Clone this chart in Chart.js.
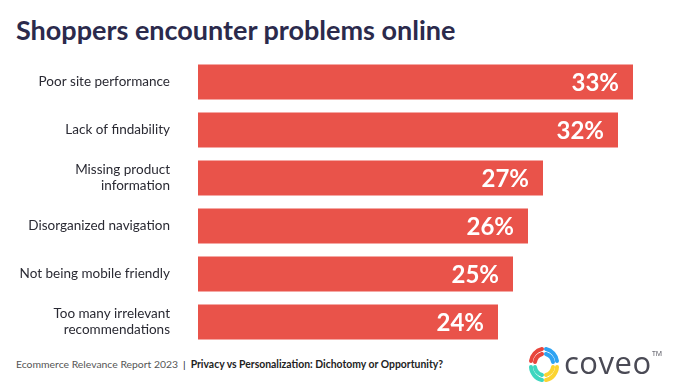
<!DOCTYPE html>
<html>
<head>
<meta charset="utf-8">
<script src="https://cdn.jsdelivr.net/npm/chart.js@4.4.0/dist/chart.umd.min.js"></script>
<style>
  html, body { margin: 0; padding: 0; background: #fff; }
  body { width: 673px; height: 392px; position: relative; overflow: hidden; font-family: Lato, "Open Sans", sans-serif; }
  #title { position: absolute; left: 16px; top: 13px; font-size: 27px; font-weight: 700; color: #2b2a4c; white-space: nowrap; }
  #c { position: absolute; left: 0; top: 58px; }
  #footer { position: absolute; left: 16px; top: 358px; font-size: 10.4px; color: #555; white-space: nowrap; }
  #footer b { color: #222; font-weight: 700; }
  #footer .sep { color: #222; padding: 0 5px; }
  #logo { position: absolute; left: 525px; top: 343px; width: 145px; height: 44px; }
  #logo .word { position: absolute; left: 39px; top: -2px; font-family: "Open Sans", sans-serif; font-size: 31px; color: #4a4a55; letter-spacing: 0.5px; }
  #logo .tm { position: absolute; left: 127px; top: 6px; font-size: 7px; color: #4a4a55; font-family: "Open Sans", sans-serif; }
</style>
</head>
<body>
<div id="title">Shoppers encounter problems online</div>
<canvas id="c" width="663" height="288"></canvas>
<div id="footer">Ecommerce Relevance Report 2023<span class="sep">|</span><b>Privacy vs Personalization: Dichotomy or Opportunity?</b></div>
<div id="logo">
  <svg width="38" height="44" viewBox="0 0 38 44">
    <g fill="none" stroke-width="4" stroke-linecap="round">
      <path d="M6 18 A14 14 0 0 1 17 6" stroke="#e8453c"/>
      <path d="M10 19 A10 10 0 0 1 17 11" stroke="#e8453c"/>
      <path d="M21 6 A14 14 0 0 1 32 18" stroke="#2ea3f2"/>
      <path d="M21 11 A10 10 0 0 1 28 19" stroke="#2ea3f2"/>
      <path d="M6 24 A14 14 0 0 0 17 37" stroke="#3dd6bf"/>
      <path d="M10 24 A10 10 0 0 0 17 32" stroke="#3dd6bf"/>
      <path d="M32 24 A14 14 0 0 1 21 37" stroke="#fbd431"/>
      <path d="M28 24 A10 10 0 0 1 21 32" stroke="#fbd431"/>
    </g>
  </svg>
  <span class="word">coveo</span><span class="tm">TM</span>
</div>
<script>
const categories = [
  "Poor site performance",
  "Lack of findability",
  ["Missing product", "information"],
  "Disorganized navigation",
  "Not being mobile friendly",
  ["Too many irrelevant", "recommendations"]
];
const values = [33, 32, 27, 26, 25, 24];
const valueLabels = ["33%", "32%", "27%", "26%", "25%", "24%"];

const valueLabelPlugin = {
  id: 'valueLabels',
  afterDatasetsDraw(chart) {
    const ctx = chart.ctx;
    const meta = chart.getDatasetMeta(0);
    ctx.save();
    ctx.fillStyle = '#ffffff';
    ctx.font = '700 24px Lato, sans-serif';
    ctx.textAlign = 'right';
    ctx.textBaseline = 'middle';
    meta.data.forEach((bar, i) => {
      ctx.fillText(valueLabels[i], bar.x - 14, bar.y + 1);
    });
    ctx.restore();
  }
};

new Chart(document.getElementById('c'), {
  type: 'bar',
  data: {
    labels: categories,
    datasets: [{
      data: values,
      backgroundColor: '#e9534a',
      borderWidth: 0,
      categoryPercentage: 1,
      barPercentage: 0.73
    }]
  },
  options: {
    indexAxis: 'y',
    responsive: false,
    animation: false,
    layout: { padding: 0, autoPadding: false },
    plugins: { legend: { display: false }, tooltip: { enabled: false }, title: { display: false } },
    scales: {
      x: { display: false, min: 4, max: 35 },
      y: {
        grid: { display: false, drawTicks: false },
        border: { display: false },
        afterFit(scale) { scale.width = 198; scale.paddingTop = 0; scale.paddingBottom = 0; },
        ticks: {
          padding: 28,
          color: '#2a2a33',
          font: { family: 'Lato, sans-serif', size: 13.5, lineHeight: 1.2 },
          crossAlign: 'near'
        }
      }
    }
  },
  plugins: [valueLabelPlugin]
});
</script>
</body>
</html>
